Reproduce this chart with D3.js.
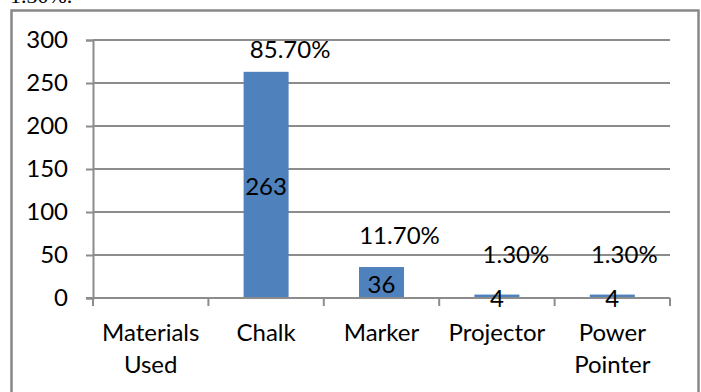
<!DOCTYPE html>
<html>
<head>
<meta charset="utf-8">
<script src="https://cdn.jsdelivr.net/npm/d3@7"></script>
<style>
  html, body { margin: 0; padding: 0; background: #fff; }
  svg { display: block; }
</style>
</head>
<body>
<svg id="chart" width="701" height="392"></svg>
<script>
// Categories (multi-line labels split by "\n")
const categories = ["Materials\nUsed", "Chalk", "Marker", "Projector", "Power\nPointer"];
// Counts per category
const counts = [null, 263, 36, 4, 4];
// Percentage labels per category
const percentLabels = ["", "85.70%", "11.70%", "1.30%", "1.30%"];
// Y axis ticks
const yTicks = [0, 50, 100, 150, 200, 250, 300];

const svg = d3.select("#chart");
const FONT = "Lato, 'Open Sans', sans-serif";
const FS = 24;
const GRID = "#8c8c8c";

const margin = { left: 93, right: 31, top: 40, bottom: 94 };
const W = 701, H = 392;

const x = d3.scaleBand()
  .domain(categories)
  .range([margin.left, W - margin.right])
  .paddingInner(0.61)
  .paddingOuter(0.305);

const y = d3.scaleLinear()
  .domain([0, 300])
  .range([H - margin.bottom, margin.top]);

// Text that runs above the framed chart
svg.append("text")
  .attr("x", 10).attr("y", 3)
  .attr("font-family", "'Liberation Serif', 'Times New Roman', serif")
  .attr("font-size", 22)
  .attr("fill", "#000")
  .text("1.30%.");

// Frame
svg.append("rect")
  .attr("x", 11.5).attr("y", 10.5)
  .attr("width", 687).attr("height", 395)
  .attr("fill", "none")
  .attr("stroke", "#888")
  .attr("stroke-width", 2.5);

// Y axis with tick stubs
const yAxis = d3.axisLeft(y).tickValues(yTicks).tickSize(7).tickPadding(18);
const gy = svg.append("g")
  .attr("transform", `translate(${margin.left},0)`)
  .call(yAxis);
gy.select(".domain").attr("stroke", GRID).attr("stroke-width", 2);
gy.selectAll(".tick line").attr("stroke", GRID).attr("stroke-width", 2);
gy.selectAll(".tick text")
  .attr("font-family", FONT).attr("font-size", FS).attr("fill", "#000");

// Horizontal gridlines
svg.append("g")
  .selectAll("line")
  .data(yTicks.filter(d => d > 0))
  .join("line")
  .attr("x1", margin.left).attr("x2", W - margin.right)
  .attr("y1", d => y(d)).attr("y2", d => y(d))
  .attr("stroke", GRID).attr("stroke-width", 2);

// Bars
const data = categories.map((c, i) => ({ c, v: counts[i], p: percentLabels[i] }));
svg.append("g")
  .selectAll("rect")
  .data(data.filter(d => d.v != null))
  .join("rect")
  .attr("x", d => x(d.c))
  .attr("width", x.bandwidth())
  .attr("y", d => y(d.v))
  .attr("height", d => y(0) - y(d.v))
  .attr("fill", "#4f81bd");

// X axis (category boundaries as ticks)
const step = x.step();
const bounds = d3.range(categories.length + 1).map(i => margin.left + i * step);
svg.append("line")
  .attr("x1", margin.left - 7).attr("x2", W - margin.right)
  .attr("y1", y(0)).attr("y2", y(0))
  .attr("stroke", GRID).attr("stroke-width", 2);
svg.append("g")
  .selectAll("line")
  .data(bounds)
  .join("line")
  .attr("x1", d => d).attr("x2", d => d)
  .attr("y1", y(0)).attr("y2", y(0) + 8)
  .attr("stroke", GRID).attr("stroke-width", 2);

// Category labels
const cat = svg.append("g")
  .selectAll("text")
  .data(data)
  .join("text")
  .attr("font-family", FONT).attr("font-size", FS).attr("fill", "#000")
  .attr("text-anchor", "middle")
  .attr("y", 341);
cat.each(function(d) {
  const lines = d.c.split("\n");
  d3.select(this).selectAll("tspan")
    .data(lines)
    .join("tspan")
    .attr("x", x(d.c) + x.bandwidth() / 2)
    .attr("dy", (l, i) => i === 0 ? 0 : 32)
    .text(l => l);
});

// Count labels centred in each bar
svg.append("g")
  .selectAll("text")
  .data(data.filter(d => d.v != null))
  .join("text")
  .attr("font-family", FONT).attr("font-size", FS).attr("fill", "#000")
  .attr("text-anchor", "middle")
  .attr("dominant-baseline", "central")
  .attr("x", d => x(d.c) + x.bandwidth() / 2)
  .attr("y", d => (y(d.v) + y(0)) / 2 + 1)
  .text(d => d.v);

// Percentage labels, nudged above and right of each bar
const nudge = { "Chalk": [24, -14], "Marker": [18, -23], "Projector": [19, -32], "Power\nPointer": [12, -32] };
svg.append("g")
  .selectAll("text")
  .data(data.filter(d => d.p))
  .join("text")
  .attr("font-family", FONT).attr("font-size", FS).attr("fill", "#000")
  .attr("text-anchor", "middle")
  .attr("x", d => x(d.c) + x.bandwidth() / 2 + nudge[d.c][0])
  .attr("y", d => y(d.v) + nudge[d.c][1])
  .text(d => d.p);
</script>
</body>
</html>
